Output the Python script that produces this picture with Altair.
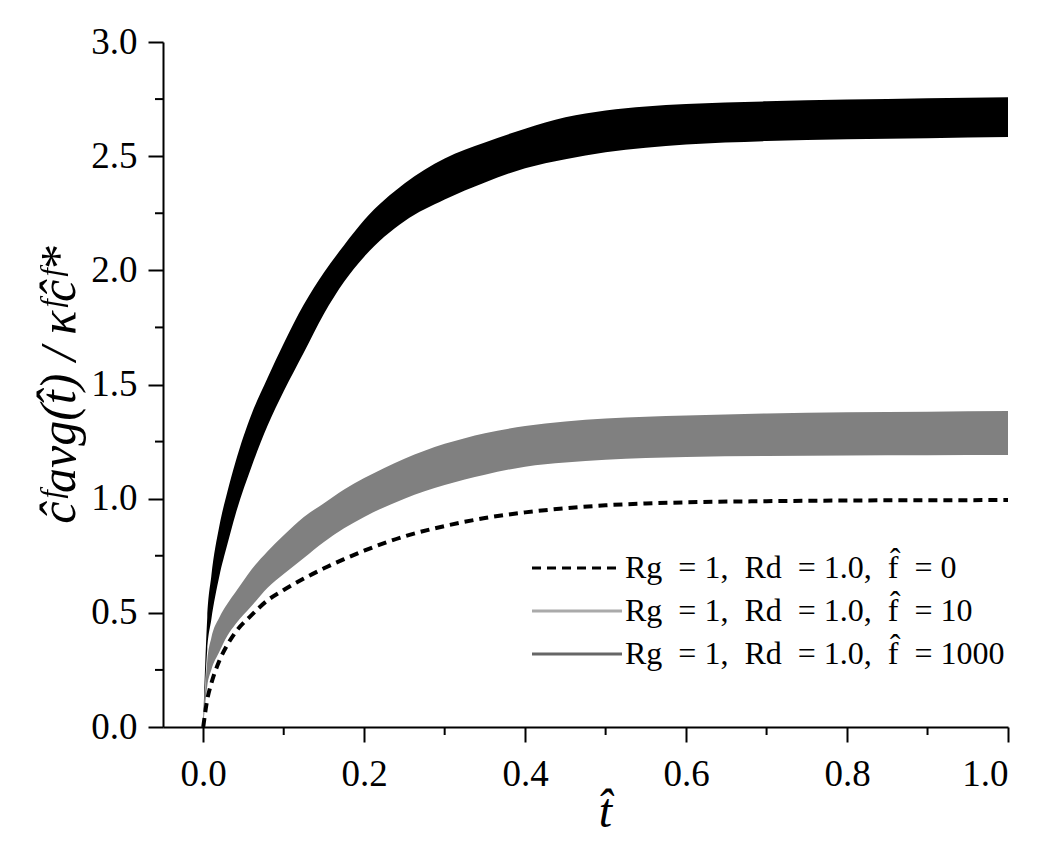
import altair as alt
import pandas as pd

# time grid (t-hat)
t_vals = [0, 0.005, 0.01, 0.02, 0.03, 0.04, 0.06, 0.08, 0.1, 0.125, 0.15, 0.175,
          0.2, 0.25, 0.3, 0.35, 0.4, 0.45, 0.5, 0.55, 0.6, 0.7, 0.8, 0.9, 1.0]

# f-hat = 1000 band (black)
black_hi = [0, 0.48, 0.66, 0.88, 1.03, 1.16, 1.37, 1.53, 1.68, 1.85, 1.99, 2.11,
            2.22, 2.38, 2.49, 2.56, 2.62, 2.67, 2.70, 2.717, 2.728, 2.740, 2.748, 2.754, 2.758]
black_lo = [0, 0.34, 0.47, 0.66, 0.80, 0.93, 1.14, 1.32, 1.47, 1.64, 1.81, 1.95,
            2.06, 2.215, 2.31, 2.385, 2.447, 2.487, 2.517, 2.537, 2.551, 2.566, 2.574, 2.579, 2.584]

# f-hat = 10 band (grey)
grey_hi = [0, 0.29, 0.39, 0.48, 0.54, 0.59, 0.69, 0.77, 0.84, 0.92, 0.98, 1.04,
           1.09, 1.175, 1.24, 1.287, 1.318, 1.338, 1.351, 1.359, 1.364, 1.373, 1.378, 1.381, 1.384]
grey_lo = [0, 0.18, 0.25, 0.33, 0.40, 0.45, 0.53, 0.61, 0.67, 0.74, 0.81, 0.87,
           0.92, 1.00, 1.06, 1.105, 1.14, 1.158, 1.170, 1.178, 1.183, 1.187, 1.189, 1.190, 1.191]

# f-hat = 0 (dashed)
dash_vals = [0, 0.12, 0.19, 0.29, 0.36, 0.415, 0.49, 0.555, 0.60, 0.65, 0.695, 0.735,
             0.772, 0.835, 0.88, 0.915, 0.94, 0.958, 0.971, 0.979, 0.984, 0.989, 0.992, 0.993, 0.994]

NB = "\u00a0"
series_labels = [f"Rg{NB}{NB}= 1,{NB}{NB}Rd{NB}{NB}= 1.0,{NB}{NB}f\u0302{NB}{NB}= 0",
                 f"Rg{NB}{NB}= 1,{NB}{NB}Rd{NB}{NB}= 1.0,{NB}{NB}f\u0302{NB}{NB}= 10",
                 f"Rg{NB}{NB}= 1,{NB}{NB}Rd{NB}{NB}= 1.0,{NB}{NB}f\u0302{NB}{NB}= 1000"]
legend_colors = ["#000000", "#aaaaaa", "#666666"]
legend_dashes = [[9, 6], [1, 0], [1, 0]]

x_major = [0, 0.2, 0.4, 0.6, 0.8, 1.0]
x_minor = [0.1, 0.3, 0.5, 0.7, 0.9]
y_major = [0, 0.5, 1.0, 1.5, 2.0, 2.5, 3.0]
y_minor = [0.25, 0.75, 1.25, 1.75, 2.25, 2.75]

y_title = f"\u0109\u1da0avg(t\u0302){NB}/{NB}\u03ba\u1da0\u0109\u1da0*"

W, H = 845, 685
FONT = "Liberation Serif"

df = pd.DataFrame({"t": t_vals, "black_hi": black_hi, "black_lo": black_lo,
                   "grey_hi": grey_hi, "grey_lo": grey_lo})
df_dash = pd.DataFrame({"t": t_vals, "v": dash_vals, "series": series_labels[0]})
df_xminor = pd.DataFrame({"t": x_minor})
df_yminor = pd.DataFrame({"v": y_minor})

x_scale = alt.Scale(domain=[-0.05, 1.0], nice=False, zero=False)
y_scale = alt.Scale(domain=[0, 3], nice=False)

x_enc = alt.X("t:Q", scale=x_scale,
              axis=alt.Axis(values=x_major, format=".1f", title="t\u0302", tickSize=15,
                            labelFont=FONT, labelFontSize=37, labelPadding=14,
                            titleX=442, titleY=99, titleBaseline="alphabetic",
                            titleFont=FONT, titleFontSize=48, titleFontStyle="italic"))
y_axis = alt.Axis(values=y_major, format=".1f", title=y_title, tickSize=15,
                  labelFont=FONT, labelFontSize=37, labelPadding=11, titlePadding=6,
                  titleFont=FONT, titleFontSize=50, titleFontStyle="italic")

base = alt.Chart(df)
grey_band = base.mark_area(color="#808080", interpolate="monotone").encode(
    x=x_enc, y=alt.Y("grey_lo:Q", scale=y_scale, axis=y_axis), y2="grey_hi:Q")
black_band = base.mark_area(color="#000000", interpolate="monotone").encode(
    x="t:Q", y="black_lo:Q", y2="black_hi:Q")

legend = alt.Legend(title=None, orient="none", legendX=398, legendY=510,
                    symbolType="M-4,0L4,0", symbolSize=506, symbolStrokeWidth=3,
                    labelFont=FONT, labelFontSize=32, labelColor="black",
                    labelLimit=800, labelOffset=32, rowPadding=11)

dash_line = alt.Chart(df_dash).mark_line(strokeWidth=4, interpolate="monotone").encode(
    x="t:Q", y="v:Q",
    color=alt.Color("series:N", scale=alt.Scale(domain=series_labels, range=legend_colors),
                    legend=legend),
    strokeDash=alt.StrokeDash("series:N", scale=alt.Scale(domain=series_labels, range=legend_dashes),
                              legend=legend))

# minor tick marks of the axes
x_minor_ticks = alt.Chart(df_xminor).mark_rule(color="black", strokeWidth=2).encode(
    x="t:Q", y=alt.value(H), y2=alt.value(H + 8))
y_minor_ticks = alt.Chart(df_yminor).mark_rule(color="black", strokeWidth=2).encode(
    y="v:Q", x=alt.value(-8), x2=alt.value(0))

chart = alt.layer(grey_band, black_band, dash_line, x_minor_ticks, y_minor_ticks).properties(
    width=W, height=H,
    autosize=alt.AutoSizeParams(type="none"),
    padding={"left": 155, "top": 34, "right": 30, "bottom": 110},
).configure_view(stroke=None).configure_axis(
    grid=False, domainColor="black", domainWidth=2, tickColor="black", tickWidth=2,
    labelColor="black", titleColor="black", titleFontWeight="normal",
)

chart.save("out.html", embed_options={"renderer": "svg", "actions": False})
